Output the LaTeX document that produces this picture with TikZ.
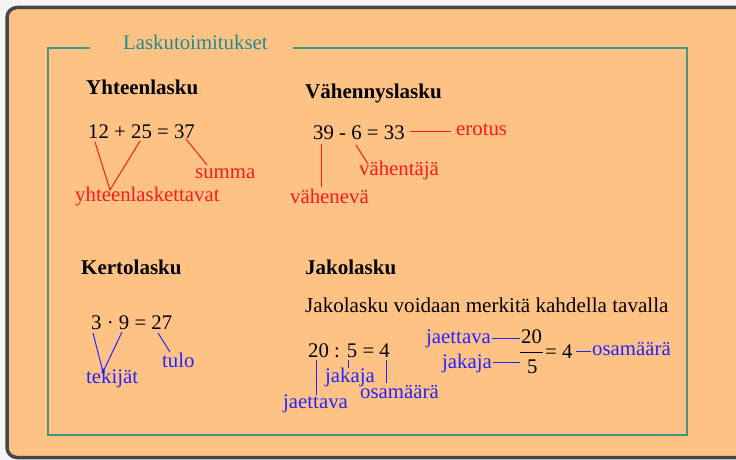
\documentclass[tikz,border=0pt]{standalone}
\usepackage{fontspec}
\setmainfont{LiberationSerif}[Extension=.ttf,UprightFont=*-Regular,BoldFont=*-Bold,ItalicFont=*-Italic]
\definecolor{bgorange}{RGB}{255,194,133}
\definecolor{edgegray}{RGB}{70,70,70}
\definecolor{frameteal}{RGB}{70,150,135}
\definecolor{titleteal}{RGB}{30,140,140}
\definecolor{lred}{RGB}{255,25,25}
\definecolor{lblue}{RGB}{35,35,255}
\tikzset{
  txt/.style={inner sep=0pt, anchor=base west, font=\fontsize{20.8}{24}\selectfont},
  head/.style={txt, font=\fontsize{21}{25}\selectfont\bfseries},
  redlbl/.style={txt, text=lred},
  bluelbl/.style={txt, text=lblue},
  redline/.style={draw=lred, line width=1pt},
  blueline/.style={draw=lblue, line width=1pt},
  frameline/.style={draw=frameteal, line width=1.5pt}
}
\begin{document}
\begin{tikzpicture}[x=1pt,y=-1pt]
\useasboundingbox (0,0) rectangle (736,460);
\clip (0,0) rectangle (736,460);
\fill[white!96!black] (0,0) rectangle (736,460);
\draw[edgegray, line width=3.5pt, fill=bgorange, rounded corners=10pt] (7,7.5) rectangle (800,457.5);

% frame and title
\node[txt, text=titleteal, font=\fontsize{20.8}{24}\selectfont] (title) at (123,50) {Laskutoimitukset};
\coordinate (fa) at (90,48);
\coordinate (fb) at (48,48);
\coordinate (fc) at (48,435);
\coordinate (fd) at (687,435);
\coordinate (fe) at (687,48);
\coordinate (ff) at (293,48);
\draw[frameline] (fa) -- (fb) -- (fc) -- (fd) -- (fe) -- (ff);

% headings
\node[head] (h1) at (86,94) {Yhteenlasku};
\node[head] (h2) at (305,98) {Vähennyslasku};
\node[head] (h3) at (81,274) {Kertolasku};
\node[head] (h4) at (305,274) {Jakolasku};
\node[txt, font=\fontsize{21.1}{25}\selectfont] (sent) at (305,312) {Jakolasku voidaan merkitä kahdella tavalla};

% equations
\node[txt] (eq1) at (88,138) {12 + 25 = 37};
\node[txt] (eq2) at (313,139) {39 - 6 = 33};
\node[txt] (eq3) at (91,329) {3 · 9 = 27};
\node[txt] (eq4) at (308,357) {20 : 5 = 4};
\node[txt] (num) at (521,343) {20};
\node[txt] (den) at (527,373) {5};
\node[txt] (eq5) at (545,358) {= 4};
\coordinate (bar1) at (520,352);
\coordinate (bar2) at (543,352);
\draw[black, line width=1pt] (bar1) -- (bar2);

% red labels
\node[redlbl] (lyht) at (75,201) {yhteenlaskettavat};
\node[redlbl] (lsumma) at (195,178) {summa};
\node[redlbl] (lerotus) at (456,135) {erotus};
\node[redlbl] (lvahen) at (290,203) {vähenevä};
\node[redlbl] (lvahent) at (359,175) {vähentäjä};

% blue labels
\node[bluelbl] (ltekijat) at (86,383) {tekijät};
\node[bluelbl] (ltulo) at (162,367) {tulo};
\node[bluelbl] (ljakaja1) at (325,382) {jakaja};
\node[bluelbl] (losam1) at (360,398) {osamäärä};
\node[bluelbl] (ljaett1) at (283,408) {jaettava};
\node[bluelbl] (ljaett2) at (426,343) {jaettava};
\node[bluelbl] (ljakaja2) at (442,368) {jakaja};
\node[bluelbl] (losam2) at (592,355) {osamäärä};

% red connectors
\coordinate (r1a) at (95,142);
\coordinate (r1v) at (110,190);
\coordinate (r1b) at (140,141);
\coordinate (r2a) at (186,139);
\coordinate (r2b) at (207,165);
\coordinate (r3a) at (410,131);
\coordinate (r3b) at (451,131);
\coordinate (r4a) at (321,144);
\coordinate (r4b) at (321,187);
\coordinate (r5a) at (356,145);
\coordinate (r5b) at (368,164);
\draw[redline] (r1a) -- (r1v) -- (r1b);
\draw[redline] (r2a) -- (r2b);
\draw[redline] (r3a) -- (r3b);
\draw[redline] (r4a) -- (r4b);
\draw[redline] (r5a) -- (r5b);

% blue connectors
\coordinate (b1a) at (93,333);
\coordinate (b1v) at (103,372);
\coordinate (b1b) at (122,332);
\coordinate (b2a) at (158,333);
\coordinate (b2b) at (170,352);
\coordinate (b3a) at (316,360);
\coordinate (b3b) at (316,395);
\coordinate (b4a) at (348,360);
\coordinate (b4b) at (348,368);
\coordinate (b5a) at (386,360);
\coordinate (b5b) at (386,383);
\coordinate (b6a) at (492,338);
\coordinate (b6b) at (520,338);
\coordinate (b7a) at (493,362);
\coordinate (b7b) at (520,362);
\coordinate (b8a) at (576,351);
\coordinate (b8b) at (591,351);
\draw[blueline] (b1a) -- (b1v) -- (b1b);
\fill[lblue] (b1v) circle (1.8pt);
\draw[blueline] (b2a) -- (b2b);
\draw[blueline] (b3a) -- (b3b);
\draw[blueline] (b4a) -- (b4b);
\draw[blueline] (b5a) -- (b5b);
\draw[blueline] (b6a) -- (b6b);
\draw[blueline] (b7a) -- (b7b);
\draw[blueline] (b8a) -- (b8b);
\end{tikzpicture}
\end{document}
